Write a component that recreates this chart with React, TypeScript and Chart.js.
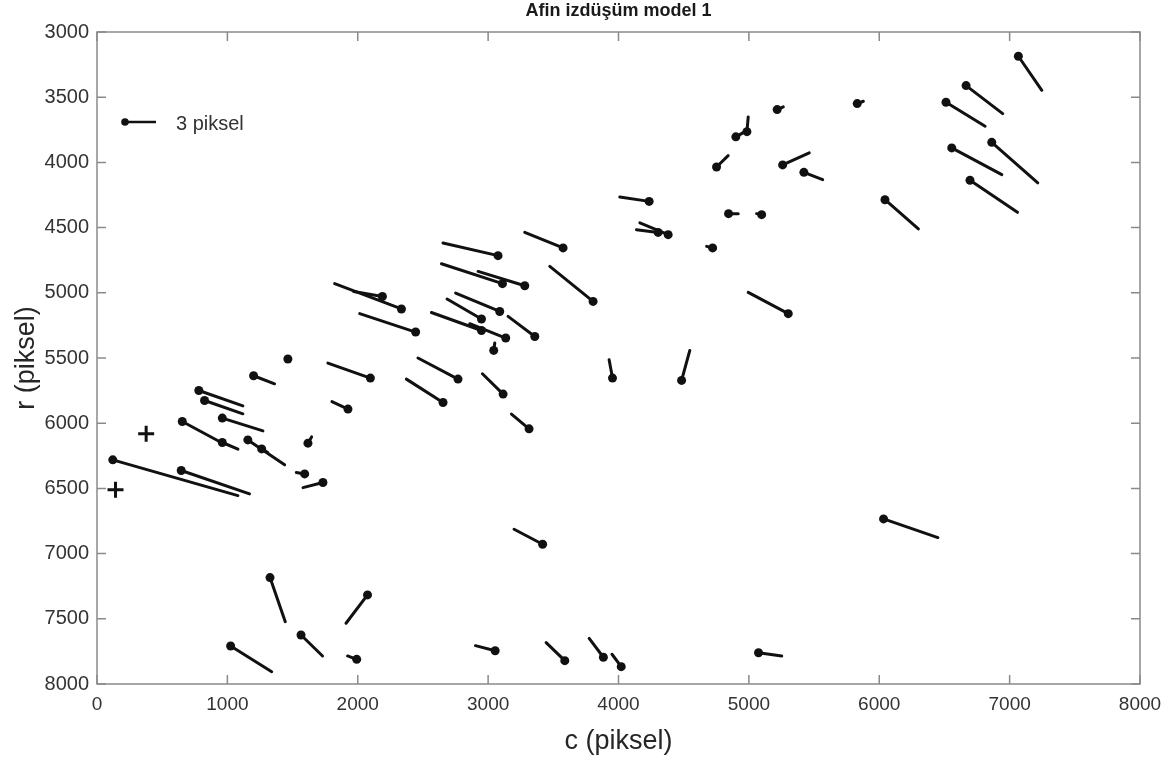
import React, { useEffect, useRef } from "react";
import { Chart, registerables } from "chart.js";

Chart.register(...registerables);

// Vector start points (dots) in image coordinates
const dotC = [121, 646, 654, 961, 1157, 1263, 781, 825, 961, 1201, 1464, 2097, 1925, 1618, 1593, 1733,
  3076, 3575, 3110, 3281, 3805, 2189, 2335, 2444, 3089, 2949, 2949, 3135, 3358, 3043, 2769, 2654, 3115, 3314,
  3954, 4484, 5302, 4722, 4235, 4381, 4304,
  7067, 6666, 6512, 6863, 6556, 6696, 6044, 5831, 5217, 4985, 4900, 4752, 5259, 5422, 4844, 5098,
  3418, 1327, 2075, 1025, 1565, 1992, 3054, 3588, 3884, 4021, 6033, 5074];
const dotR = [6281, 6363, 5987, 6148, 6128, 6197, 5749, 5826, 5961, 5636, 5508, 5654, 5892, 6153, 6389, 6455,
  4715, 4656, 4930, 4946, 5066, 5028, 5124, 5301, 5143, 5201, 5289, 5347, 5335, 5442, 5662, 5841, 5777, 6043,
  5654, 5672, 5160, 4656, 4299, 4554, 4537,
  3186, 3411, 3539, 3846, 3889, 4137, 4286, 3549, 3595, 3764, 3804, 4035, 4019, 4076, 4393, 4401,
  6928, 7184, 7317, 7709, 7624, 7811, 7745, 7821, 7795, 7867, 6734, 7760];
// Vector end points (scaled residual tips)
const tipC = [1081, 1170, 953, 1081, 1439, 1310, 1119, 1119, 1273, 1362, 1477, 1771, 1802, 1646, 1529, 1580,
  2654, 3281, 2642, 2923, 3473, 1969, 1823, 2015, 2751, 2685, 2565, 2859, 3153, 3051, 2462, 2373, 2956, 3179,
  3928, 4547, 4995, 4676, 4010, 4164, 4138,
  7247, 6947, 6812, 7216, 6940, 7060, 6300, 5878, 5264, 4995, 4970, 4841, 5463, 5566, 4918, 5059,
  3199, 1444, 1910, 1340, 1730, 1922, 2903, 3445, 3775, 3950, 6450, 5252];
const tipR = [6555, 6542, 6148, 6199, 6319, 6225, 5867, 5928, 6059, 5698, 5522, 5539, 5834, 6105, 6378, 6494,
  4618, 4537, 4777, 4836, 4797, 4990, 4930, 5160, 5002, 5048, 5151, 5237, 5181, 5385, 5500, 5662, 5621, 5930,
  5514, 5442, 4997, 4644, 4265, 4464, 4516,
  3447, 3626, 3723, 4157, 4094, 4383, 4510, 3531, 3574, 3651, 3764, 3948, 3927, 4132, 4393, 4393,
  6813, 7522, 7534, 7906, 7785, 7785, 7706, 7683, 7650, 7772, 6877, 7785];

// Control points marked with "+"
const crossC = [377, 142];
const crossR = [6081, 6511];

const xTicks = [0, 1000, 2000, 3000, 4000, 5000, 6000, 7000, 8000];
const yTicks = [3000, 3500, 4000, 4500, 5000, 5500, 6000, 6500, 7000, 7500, 8000];

const titleText = "Afin izdüşüm model 1";
const xLabel = "c (piksel)";
const yLabel = "r (piksel)";
const legendText = "3 piksel";

const FONT = '"Liberation Sans", Arial, Helvetica, sans-serif';
const INK = "#111111";

const decor = {
  id: "decor",
  beforeDatasetsDraw(chart: any) {
    const { ctx, chartArea: a, scales } = chart;
    ctx.save();
    ctx.strokeStyle = "#8a8a8a";
    ctx.lineWidth = 1.5;
    ctx.strokeRect(a.left, a.top, a.right - a.left, a.bottom - a.top);
    const tl = 9;
    ctx.beginPath();
    scales.x.ticks.forEach((t: any) => {
      const px = scales.x.getPixelForValue(t.value);
      ctx.moveTo(px, a.bottom);
      ctx.lineTo(px, a.bottom - tl);
      ctx.moveTo(px, a.top);
      ctx.lineTo(px, a.top + tl);
    });
    scales.y.ticks.forEach((t: any) => {
      const py = scales.y.getPixelForValue(t.value);
      ctx.moveTo(a.left, py);
      ctx.lineTo(a.left + tl, py);
      ctx.moveTo(a.right, py);
      ctx.lineTo(a.right - tl, py);
    });
    ctx.stroke();
    ctx.restore();
  },
  afterDraw(chart: any) {
    const { ctx, chartArea: a } = chart;
    const cx = (a.left + a.right) / 2;
    const cy = (a.top + a.bottom) / 2;
    ctx.save();
    ctx.fillStyle = "#1a1a1a";
    ctx.textAlign = "center";
    ctx.textBaseline = "middle";
    ctx.font = `bold 18px ${FONT}`;
    ctx.fillText(titleText, cx, 11);
    ctx.fillStyle = "#262626";
    ctx.font = `27px ${FONT}`;
    ctx.fillText(xLabel, cx, 742);
    ctx.save();
    ctx.translate(27, cy);
    ctx.rotate(-Math.PI / 2);
    ctx.fillText(yLabel, 0, 0);
    ctx.restore();
    // legend
    const lx = a.left + 28;
    const ly = a.top + 90;
    ctx.strokeStyle = INK;
    ctx.lineWidth = 2.5;
    ctx.beginPath();
    ctx.moveTo(lx, ly);
    ctx.lineTo(lx + 31, ly);
    ctx.stroke();
    ctx.fillStyle = INK;
    ctx.beginPath();
    ctx.arc(lx, ly, 3.8, 0, Math.PI * 2);
    ctx.fill();
    ctx.fillStyle = "#333333";
    ctx.textAlign = "left";
    ctx.font = `20px ${FONT}`;
    ctx.fillText(legendText, lx + 51, ly + 2);
    ctx.restore();
  },
};

export default function App() {
  const ref = useRef<HTMLCanvasElement | null>(null);
  useEffect(() => {
    if (!ref.current) return;
    const vectorSets = dotC.map((c, i) => ({
      data: [
        { x: c, y: dotR[i] },
        { x: tipC[i], y: tipR[i] },
      ],
      showLine: true,
      borderColor: INK,
      borderWidth: 3,
      borderCapStyle: "round" as const,
      pointRadius: 0,
      pointHoverRadius: 0,
    }));
    const dotSet = {
      data: dotC.map((c, i) => ({ x: c, y: dotR[i] })),
      showLine: false,
      pointRadius: 4.5,
      pointBackgroundColor: INK,
      pointBorderColor: INK,
      pointBorderWidth: 0,
    };
    const crossSet = {
      data: crossC.map((c, i) => ({ x: c, y: crossR[i] })),
      showLine: false,
      pointStyle: "cross" as const,
      pointRadius: 8,
      pointBorderColor: INK,
      pointBorderWidth: 3,
    };
    const chart = new Chart(ref.current, {
      type: "scatter",
      data: { datasets: [...vectorSets, dotSet, crossSet] as any },
      options: {
        animation: false,
        responsive: true,
        maintainAspectRatio: false,
        layout: { padding: { top: 32, right: 34, left: 0, bottom: 0 } },
        plugins: { legend: { display: false }, tooltip: { enabled: false }, title: { display: false } },
        scales: {
          x: {
            type: "linear",
            min: 0,
            max: 8000,
            afterBuildTicks: (s: any) => {
              s.ticks = xTicks.map((v) => ({ value: v }));
            },
            afterFit: (s: any) => {
              s.height = 81;
            },
            grid: { display: false, drawTicks: false },
            border: { display: false },
            ticks: {
              padding: 9,
              color: "#333333",
              font: { family: FONT, size: 19 },
              callback: (v: any) => String(v),
              maxRotation: 0,
            },
          },
          y: {
            type: "linear",
            min: 3000,
            max: 8000,
            reverse: true,
            afterBuildTicks: (s: any) => {
              s.ticks = yTicks.map((v) => ({ value: v }));
            },
            afterFit: (s: any) => {
              s.width = 97;
            },
            grid: { display: false, drawTicks: false },
            border: { display: false },
            ticks: {
              padding: 8,
              color: "#333333",
              font: { family: FONT, size: 20 },
              callback: (v: any) => String(v),
            },
          },
        },
      },
      plugins: [decor],
    });
    return () => chart.destroy();
  }, []);
  return (
    <div style={{ position: "fixed", left: 0, top: 0, width: 1174, height: 765, background: "#fff" }}>
      <canvas ref={ref} />
    </div>
  );
}
